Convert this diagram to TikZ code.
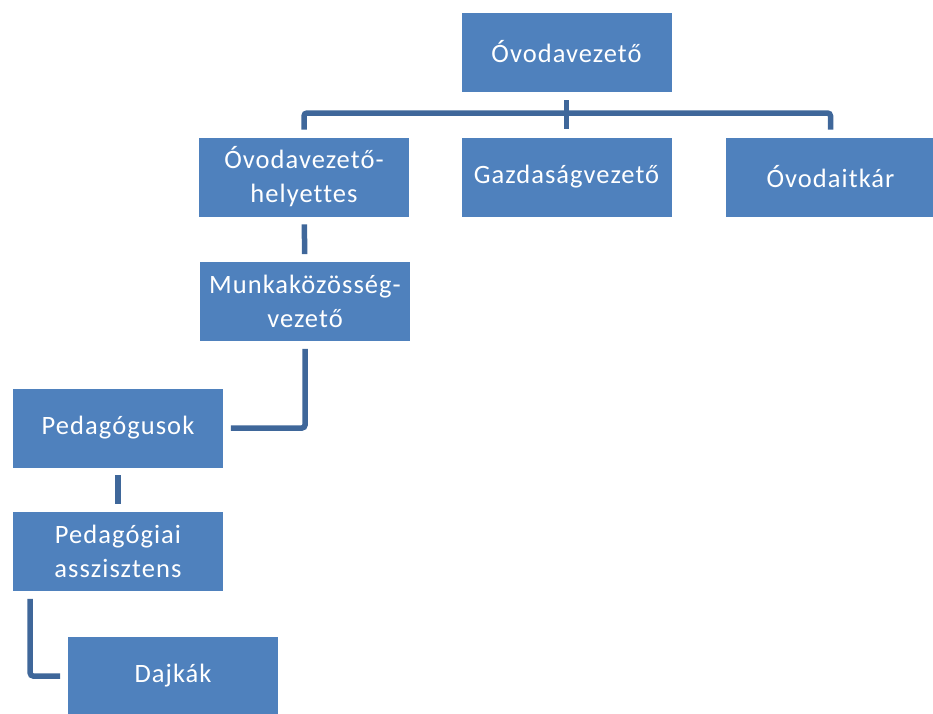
\documentclass[tikz,border=0pt]{standalone}
\usepackage{fontspec}
\setmainfont{Carlito}[LetterSpace=4, Ligatures=NoCommon]
\usepackage{xcolor}
\usepackage{tikz}
\definecolor{boxblue}{HTML}{4F81BD}
\definecolor{lineblue}{HTML}{3F679A}

\begin{document}
\begin{tikzpicture}[x=1pt, y=-1pt,
        box/.style={fill=boxblue, draw=white, line width=0.6pt, text=white, minimum width=211pt, minimum height=80pt, inner sep=0pt, align=center, font=\fontsize{26.5}{34}\selectfont},
        conn/.style={lineblue, line width=5.5pt, shorten <=7pt, shorten >=7pt}]
        %FRAME
        \useasboundingbox (0,0) rectangle (933,713);
        \clip (0,0) rectangle (933,713);

        %BOXES
        \node[box] (vezeto) at (566.5,52) {Óvodavezető};
        \node[box] (helyettes) at (304,177) {Óvodavezető-\\helyettes};
        \node[box] (gazdasag) at (566.5,177) {Gazdaságvezető};
        \node[box] (titkar) at (830.5,177) {Óvodaitkár};
        \node[box] (munka) at (305,301.5) {Munkaközösség-\\vezető};
        \node[box] (pedagogus) at (118,428) {Pedagógusok};
        \node[box] (asszisztens) at (118,551.5) {Pedagógiai\\asszisztens};
        \node[box] (dajka) at (173,676) {Dajkák};

        %CONNECTORS
        \coordinate (bus) at (566.5,113);
        \draw[conn, shorten <=8pt, shorten >=8pt] (vezeto) -- (gazdasag);
        \draw[conn, rounded corners=3pt] (helyettes.north) |- (bus) -| (titkar.north);
        \draw[conn] (helyettes) -- (munka);
        \draw[conn, rounded corners=3pt] (munka.south) |- (pedagogus.east);
        \draw[conn] (pedagogus) -- (asszisztens);
        \draw[conn, rounded corners=3pt] ([xshift=18pt]asszisztens.south west) |- (dajka.west);
\end{tikzpicture}
\end{document}
